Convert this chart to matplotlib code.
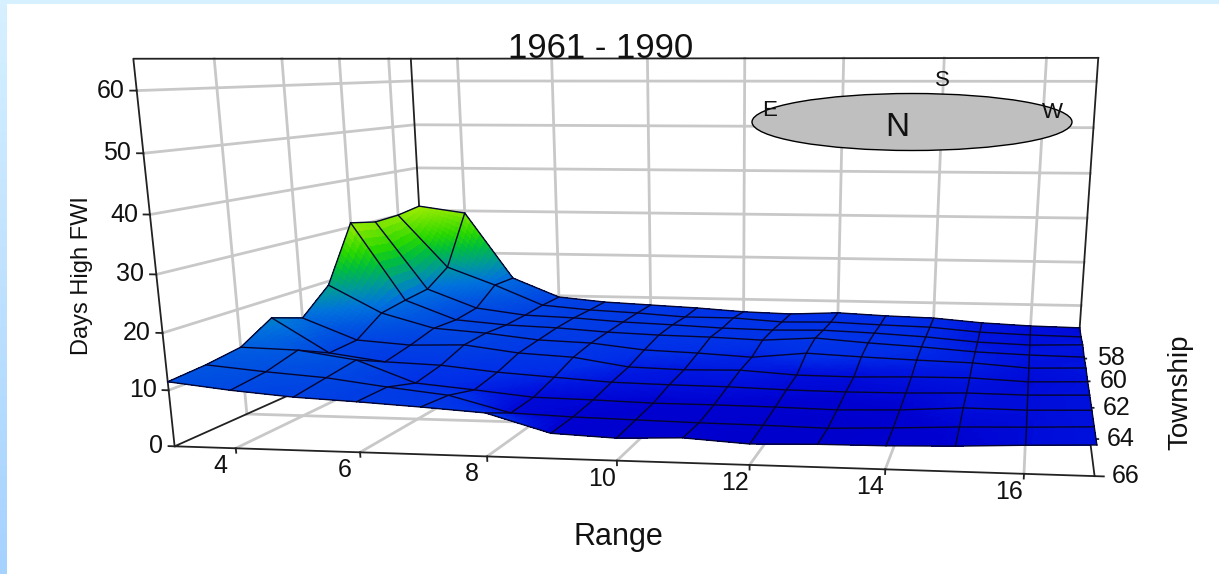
import numpy as np
import matplotlib
matplotlib.use('Agg')
import matplotlib.pyplot as plt
from matplotlib.colors import LinearSegmentedColormap, Normalize
from matplotlib.patches import Ellipse, Rectangle
from matplotlib.transforms import IdentityTransform
from mpl_toolkits.mplot3d import proj3d

plt.rcParams['font.family'] = ['Liberation Sans', 'DejaVu Sans']

# Days of high FWI, rows are townships, columns ranges
range_vals = np.arange(3, 18)
township_vals = np.arange(66, 56, -1)
days = np.array([
    [11.5, 10.3, 9.4, 8.9, 8.3, 7.6, 4.4, 3.9, 4.3, 3.6, 3.9, 4.0, 4.3, 4.8, 5.2],
    [12.0, 11.0, 10.2, 8.8, 7.6, 4.7, 4.3, 4.1, 3.9, 3.8, 3.6, 4.0, 4.5, 4.8, 5.2],
    [12.9, 12.6, 11.0, 6.9, 5.9, 4.8, 4.6, 4.3, 4.3, 4.2, 4.0, 4.3, 5.0, 4.9, 5.2],
    [16.4, 9.7, 8.2, 7.8, 6.7, 6.0, 5.3, 5.1, 5.0, 4.7, 4.6, 4.7, 5.0, 4.9, 5.2],
    [14.3, 10.0, 9.2, 9.5, 8.1, 7.5, 5.8, 5.5, 5.7, 5.0, 4.9, 5.2, 5.3, 4.8, 5.1],
    [19.2, 13.5, 10.5, 9.7, 8.5, 8.1, 6.9, 6.5, 5.9, 7.0, 6.5, 6.1, 5.8, 5.0, 5.3],
    [30.9, 14.3, 10.2, 9.3, 8.9, 8.2, 7.8, 7.6, 7.2, 7.9, 7.1, 6.5, 5.7, 5.3, 5.1],
    [29.8, 14.9, 10.8, 9.4, 9.0, 8.3, 7.9, 7.4, 7.2, 7.4, 7.0, 6.4, 5.5, 5.1, 5.4],
    [30.1, 18.2, 14.2, 9.7, 8.8, 8.3, 7.6, 7.6, 6.9, 7.1, 6.7, 6.4, 5.5, 5.1, 4.9],
    [31.0, 29.5, 14.1, 9.7, 8.7, 8.2, 7.7, 7.0, 6.7, 7.2, 6.7, 6.4, 5.5, 5.0, 4.8],
])
range_ticks = [4, 6, 8, 10, 12, 14, 16]
township_ticks = [58, 60, 62, 64, 66]
days_ticks = [0, 10, 20, 30, 40, 50, 60]

x_lo, x_hi = 3, 17
t_back, t_front = 57, 66
z_hi = 65
grid_gray = '#c8c8c8'
px_w, px_h = 1219, 574

fig = plt.figure(figsize=(12.19, 5.74), dpi=100, facecolor='#d6f0ff')
# white page with the blue strip along the left
fig.patches.append(Rectangle((7, 0), px_w, px_h - 4, transform=IdentityTransform(),
                             facecolor='white', edgecolor='none', figure=fig, zorder=-5))
strip = fig.add_axes([0, 0, 7 / px_w, 1], zorder=-4)
strip.imshow(np.linspace(0, 1, 100)[:, None], aspect='auto',
             cmap=LinearSegmentedColormap.from_list('s', ['#d6f0ff', '#a6d2ff']))
strip.axis('off')

# the picture is stretched sideways, so the 3d axes must not stay square
ax = fig.add_axes([498.14 / px_w, 254.10 / px_h, 374.37 / px_w, 176.25 / px_h],
                  projection='3d', computed_zorder=False)
ax.apply_aspect = lambda position=None: None
ax.patch.set_alpha(0)
ax.set_axis_off()
ax.set_xlim(x_lo, x_hi)
ax.set_ylim(t_front, t_back)
ax.set_zlim(0, z_hi)
ax.set_box_aspect((3.9405, 3.7236, 3.5366), zoom=3.3967)
ax.view_init(elev=10.127, azim=-80.285, roll=0.148)


def line(xs, ys, zs, **kw):
    ax.plot(xs, ys, zs, clip_on=False, **kw)


# walls and floor grid
for v in range_ticks:
    line([v, v], [t_back, t_back], [0, z_hi], color=grid_gray, lw=2, zorder=1)
    line([v, v], [t_front, t_back], [0, 0], color=grid_gray, lw=2, zorder=1)
for t in township_ticks[:-1]:
    line([x_lo, x_lo], [t, t], [0, z_hi], color=grid_gray, lw=2, zorder=1)
    line([x_lo, x_hi], [t, t], [0, 0], color=grid_gray, lw=2, zorder=1)
for d in days_ticks[1:]:
    line([x_lo, x_lo, x_hi], [t_front, t_back, t_back], [d, d, d], color=grid_gray, lw=2, zorder=1)

# box edges
edge = dict(color='#222222', lw=1.3, zorder=2)
line([x_lo, x_lo, x_lo, x_hi], [t_front, t_front, t_back, t_back], [0, z_hi, z_hi, z_hi], **edge)
line([x_lo, x_lo], [t_back, t_back], [0, z_hi], **edge)
line([x_hi, x_hi, x_hi], [t_front, t_back, t_back], [0, 0, z_hi], **edge)
line([x_hi, x_lo, x_lo], [t_front, t_front, t_back], [0, 0, 0], **edge)


# smooth colouring: each cell is split up so the colour runs with height
def refine(a, n=10):
    a = np.asarray(a, float)
    u = np.linspace(0, a.shape[0] - 1, (a.shape[0] - 1) * n + 1)
    v = np.linspace(0, a.shape[1] - 1, (a.shape[1] - 1) * n + 1)
    b = np.array([np.interp(u, np.arange(a.shape[0]), c) for c in a.T]).T
    return np.array([np.interp(v, np.arange(a.shape[1]), r) for r in b])


X, Y = np.meshgrid(range_vals, township_vals)
stops = [(3, (0, 0, 200)), (4.2, (0, 0, 208)), (5.2, (0, 18, 222)), (6.5, (0, 45, 232)), (9, (0, 62, 228)),
         (12, (0, 85, 225)), (15, (0, 115, 220)), (18, (0, 150, 160)), (22, (0, 190, 60)), (25, (40, 215, 0)),
         (31, (160, 235, 0))]
norm = Normalize(3, 31)
cmap = LinearSegmentedColormap.from_list('fwi', [(norm(z), tuple(c / 255 for c in rgb)) for z, rgb in stops])
Zf = refine(days)
Zc = (Zf[:-1, :-1] + Zf[1:, 1:] + Zf[1:, :-1] + Zf[:-1, 1:]) / 4
surf = ax.plot_surface(refine(X), refine(Y), Zf, facecolors=cmap(norm(Zc)), rstride=1, cstride=1,
                       shade=False, linewidth=0, antialiased=False, zorder=3)
surf.set_clip_on(False)
for i in range(len(township_vals)):
    line(range_vals, Y[i], days[i], color='#050530', lw=1, zorder=4)
for j in range(len(range_vals)):
    line(X[:, j], township_vals, days[:, j], color='#050530', lw=1, zorder=4)


# ticks and their labels
def label(x, y, z, s, dx, dy, ha='center'):
    xp, yp, _ = proj3d.proj_transform(x, y, z, ax.get_proj())
    ax.annotate(s, (xp, yp), xytext=(dx, dy), textcoords='offset pixels', ha=ha, va='center',
                fontsize=18, color='#111111', zorder=6, annotation_clip=False)


tick = dict(color='#222222', lw=1.3, zorder=2)
for v in range_ticks:
    line([v, v], [t_front, t_front], [-0.8, 0], **tick)
    label(v, t_front, 0, str(v), -15, -18)
for t in township_ticks:
    line([x_hi, x_hi + 0.13], [t, t], [0, 0], **tick)
    label(x_hi, t, 0, str(t), 17, 0, ha='left')
for d in days_ticks:
    line([x_lo - 0.1, x_lo], [t_front, t_front], [d, d], **tick)
    label(x_lo, t_front, d, str(d), -12, 0, ha='right')


def ftext(px, py, s, **kw):
    fig.text(px / px_w, 1 - py / px_h, s, ha='center', va='center', color='#111111', **kw)


ftext(601, 48, '1961 - 1990', fontsize=25)
ftext(82, 276, 'Days High FWI', fontsize=17, rotation=90)
ftext(1180, 392, 'Township', fontsize=20, rotation=90)
ftext(618, 537, 'Range', fontsize=22)

# compass
fig.patches.append(Ellipse((912, px_h - 122), 320, 57, transform=IdentityTransform(), facecolor='#bfbfbf',
                           edgecolor='black', lw=1, figure=fig, zorder=2))
ftext(770, 110, 'E', fontsize=16)
ftext(1052, 113, 'W', fontsize=16)
ftext(942, 80, 'S', fontsize=16)
ftext(897, 128, 'N', fontsize=24)

fig.savefig('out.png', dpi=100, facecolor=fig.get_facecolor())
